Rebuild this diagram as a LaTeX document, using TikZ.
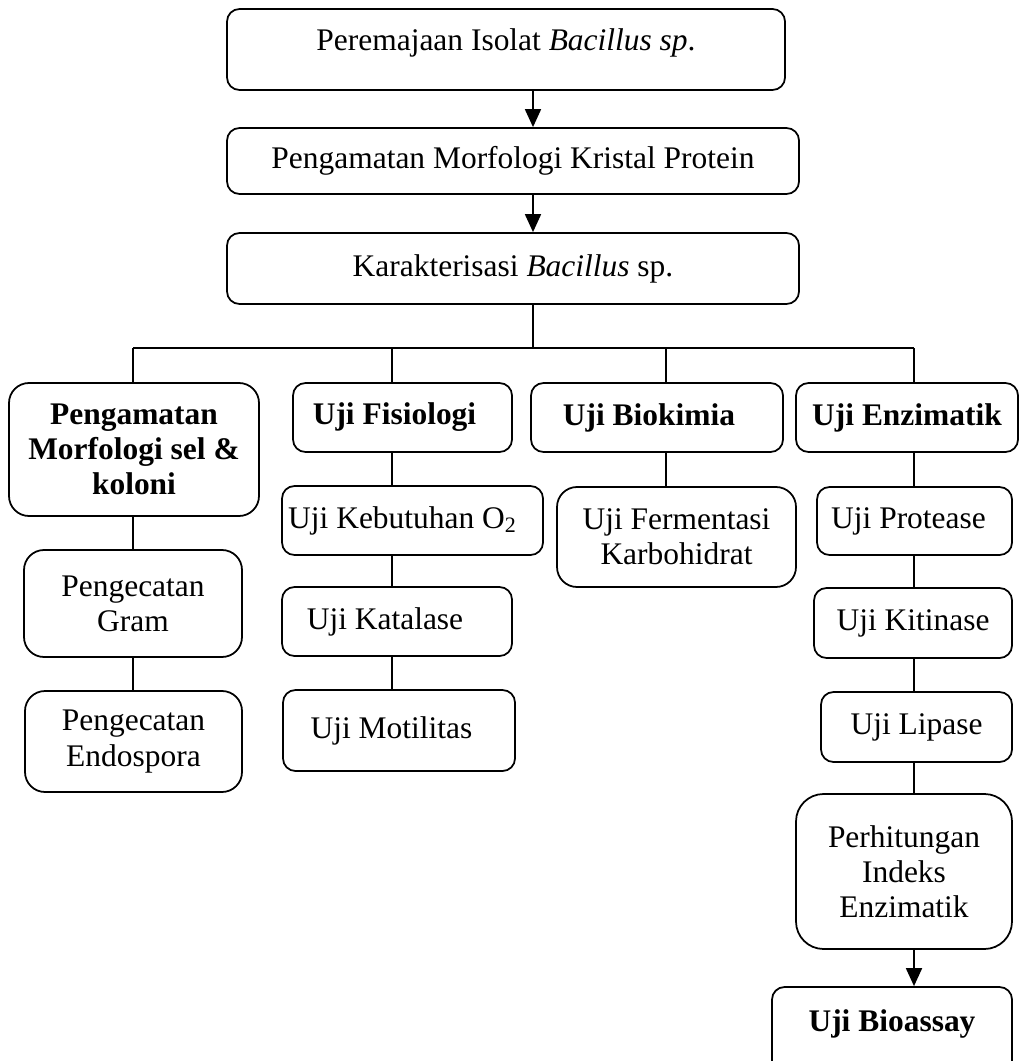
\documentclass[tikz,border=0pt]{standalone}
\usepackage{fontspec}
\setmainfont{Liberation Serif}
\usetikzlibrary{arrows.meta}

\begin{document}
\begin{tikzpicture}[
    n/.style={rectangle, draw, rounded corners=0.25cm, line width=1pt, align=center, inner sep=0pt, font=\fontsize{17.9}{20}\selectfont},
    nb/.style={n, font=\fontsize{17.9}{20}\selectfont\bfseries},
    l/.style={line width=1pt},
    a/.style={l, -{Triangle[length=3.6mm, width=3.2mm]}},
]
\useasboundingbox (0,0) rectangle (20.38,-21.22);

\node[n, text depth=0.4cm, minimum width=11.16cm, minimum height=1.62cm] (per) at (10.12,-0.99) {Peremajaan Isolat \textit{Bacillus sp}.};
\node[n, minimum width=11.44cm, minimum height=1.32cm] (mor) at (10.26,-3.22) {Pengamatan Morfologi Kristal Protein};
\node[n, minimum width=11.44cm, minimum height=1.42cm] (kar) at (10.26,-5.37) {Karakterisasi \textit{Bacillus} sp.};

\node[nb, rounded corners=0.4cm, minimum width=5cm, minimum height=2.66cm] (msk) at (2.68,-8.99) {Pengamatan\\Morfologi sel \&\\koloni};
\node[nb, minimum width=4.38cm, minimum height=1.38cm] (fis) at (8.05,-8.35) {Uji Fisiologi\hspace*{0.32cm}};
\node[nb, minimum width=5.04cm, minimum height=1.38cm] (bio) at (13.14,-8.35) {Uji Biokimia\hspace*{0.32cm}};
\node[nb, minimum width=4.44cm, minimum height=1.38cm] (enz) at (18.14,-8.35) {Uji Enzimatik};

\node[n, rounded corners=0.4cm, minimum width=4.36cm, minimum height=2.14cm] (gram) at (2.66,-12.07) {Pengecatan\\Gram};
\node[n, rounded corners=0.4cm, minimum width=4.34cm, minimum height=2.02cm] (endo) at (2.67,-14.83) {Pengecatan\\Endospora};

\node[n, minimum width=5.22cm, minimum height=1.38cm] (oksi) at (8.25,-10.41) {Uji Kebutuhan O\textsubscript{2}\hspace*{0.4cm}};
\node[n, minimum width=4.6cm, minimum height=1.38cm] (kat) at (7.94,-12.43) {Uji Katalase\hspace*{0.48cm}};
\node[n, minimum width=4.64cm, minimum height=1.62cm] (mot) at (7.98,-14.61) {Uji Motilitas\hspace*{0.3cm}};

\node[n, rounded corners=0.4cm, minimum width=4.78cm, minimum height=2cm] (fer) at (13.53,-10.74) {Uji Fermentasi\\Karbohidrat};

\node[n, minimum width=3.9cm, minimum height=1.36cm] (pro) at (18.29,-10.42) {Uji Protease\hspace*{0.24cm}};
\node[n, minimum width=3.96cm, minimum height=1.4cm] (kit) at (18.26,-12.46) {Uji Kitinase};
\node[n, minimum width=3.82cm, minimum height=1.4cm] (lip) at (18.33,-14.54) {Uji Lipase};
\node[n, rounded corners=0.55cm, minimum width=4.32cm, minimum height=3.1cm] (ind) at (18.08,-17.43) {Perhitungan\\Indeks\\Enzimatik};
\node[nb, text depth=0.42cm, minimum width=4.8cm, minimum height=1.76cm] (ass) at (17.84,-20.62) {Uji Bioassay};

\coordinate (sp) at (10.66,0);
\coordinate (ca) at (2.66,-6.96);
\coordinate (cb) at (7.84,-6.96);
\coordinate (cc) at (13.32,-6.96);
\coordinate (cd) at (18.28,-6.96);

\draw[a] (per.south -| sp) -- (mor.north -| sp);
\draw[a] (mor.south -| sp) -- (kar.north -| sp);
\draw[l] (kar.south -| sp) -- (sp |- ca);
\draw[l] (ca) -- (cd);

\draw[l] (ca) -- (msk.north -| ca);
\draw[l] (cb) -- (fis.north -| cb);
\draw[l] (cc) -- (bio.north -| cc);
\draw[l] (cd) -- (enz.north -| cd);

\draw[l] (msk.south -| ca) -- (gram.north -| ca);
\draw[l] (gram.south -| ca) -- (endo.north -| ca);
\draw[l] (fis.south -| cb) -- (oksi.north -| cb);
\draw[l] (oksi.south -| cb) -- (kat.north -| cb);
\draw[l] (kat.south -| cb) -- (mot.north -| cb);
\draw[l] (bio.south -| cc) -- (fer.north -| cc);
\draw[l] (enz.south -| cd) -- (pro.north -| cd);
\draw[l] (pro.south -| cd) -- (kit.north -| cd);
\draw[l] (kit.south -| cd) -- (lip.north -| cd);
\draw[l] (lip.south -| cd) -- (ind.north -| cd);
\draw[a] (ind.south -| cd) -- (ass.north -| cd);
\end{tikzpicture}
\end{document}
